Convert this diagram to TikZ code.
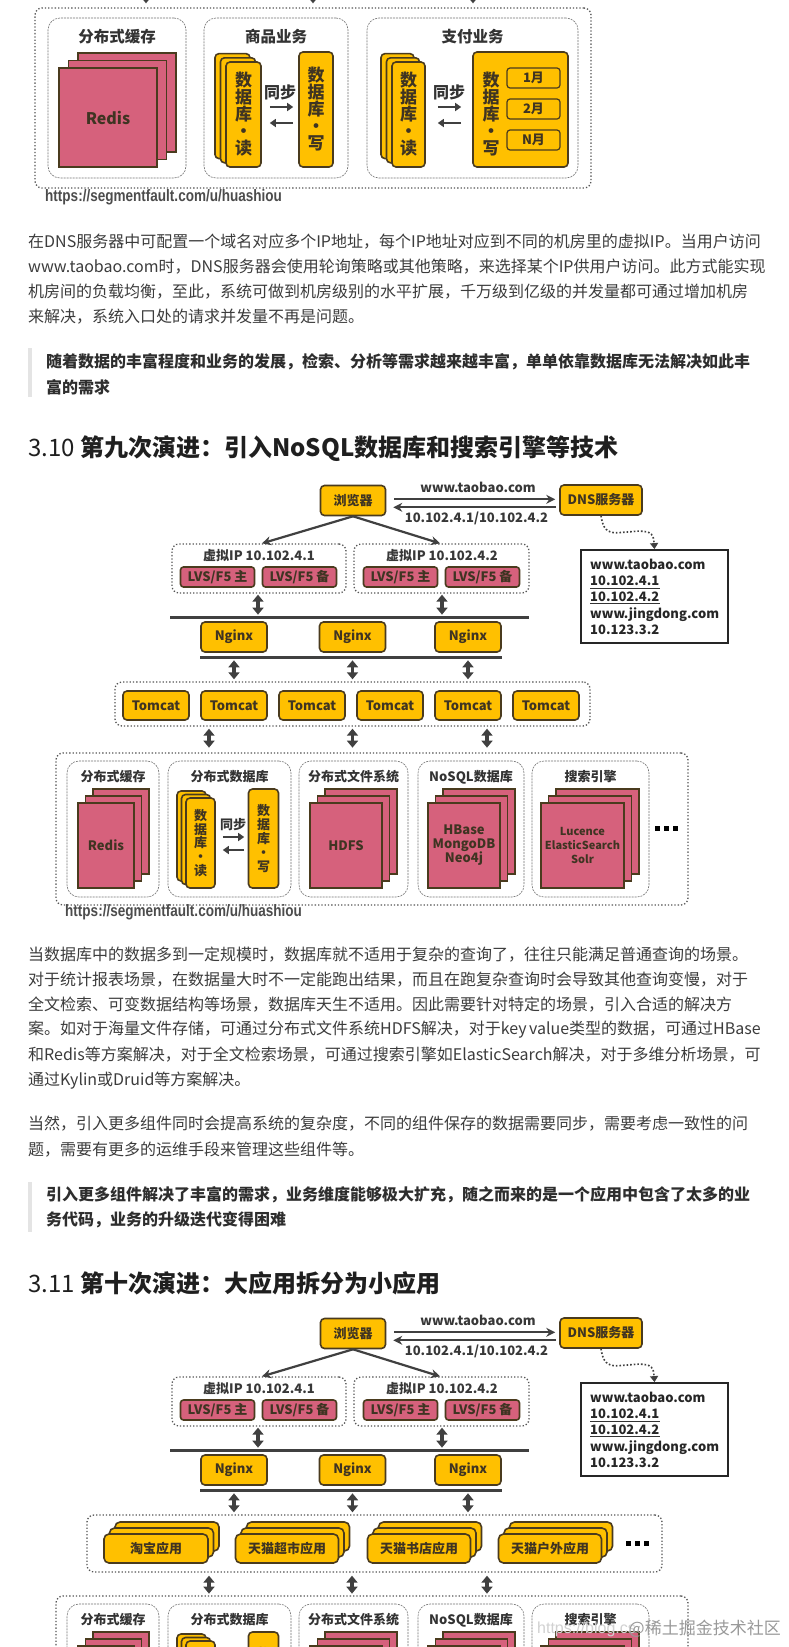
\documentclass[tikz,border=0pt]{standalone}
\usepackage{fontspec}
\usetikzlibrary{arrows.meta,calc,positioning}
\newfontfamily\cjk{Noto Sans CJK SC}
\newfontfamily\lsans{Liberation Sans}
\newfontfamily\narrow{Liberation Sans}[FakeStretch=0.82]
\XeTeXlinebreaklocale "zh"
\XeTeXlinebreakskip=0pt plus 4pt minus 1pt
\definecolor{yel}{HTML}{FFC000}
\definecolor{brd}{HTML}{4A3B1E}
\definecolor{pnk}{HTML}{D6617C}
\definecolor{ink}{HTML}{3F3422}
\definecolor{ln}{HTML}{404040}
\definecolor{body}{HTML}{3C3C3C}
\definecolor{bar}{HTML}{E4E4E4}
\definecolor{dots}{HTML}{555555}
\newcommand{\fsz}[1]{\fontsize{#1}{#1}\selectfont}
\newcommand{\vtxt}{\cjk\bfseries\fontsize{13}{13.8}\selectfont}
\newcommand{\vbig}{\cjk\bfseries\fontsize{17}{17}\selectfont}
\newcommand{\jline}[2]{\hbox to #1pt{#2}}
\newcommand{\dotrow}{\rule{5pt}{5pt}\hspace{4pt}\rule{5pt}{5pt}\hspace{4pt}\rule{5pt}{5pt}}
% three stacked sheets: [style]{name}{centre}{width}{height}{offset}{text}
\newcommand{\sheets}[7][page]{%
  \node[#1,minimum width=#4,minimum height=#5] (#2-3) at ($#3+2*#6$) {};
  \node[#1,minimum width=#4,minimum height=#5] (#2-2) at ($#3+#6$) {};
  \node[#1,minimum width=#4,minimum height=#5,align=center] (#2) at #3 {#7};}

\begin{document}
\begin{tikzpicture}[x=1pt,y=-1pt,
  txt/.style={anchor=west,inner sep=0,font=\cjk\fsz{16},text=body},
  quote/.style={txt,font=\cjk\bfseries\fsz{16},text=black!82},
  head/.style={anchor=west,inner sep=0,font=\cjk\bfseries\fsz{24},text=black!88},
  ybox/.style={draw=brd,line width=1.6pt,fill=yel,rounded corners=4pt,
    font=\cjk\bfseries\fsz{13},text=ink,inner sep=0},
  lvs/.style={ybox,fill=pnk,rounded corners=3pt,minimum width=74,minimum height=20},
  page/.style={draw=brd,line width=1.6pt,fill=pnk,
    font=\cjk\bfseries\fontsize{13}{14}\selectfont,text=ink,inner sep=0},
  dotbox/.style={draw=dots,line width=1.3pt,dotted,rounded corners=7pt},
  panel/.style={draw=black!55,line width=0.6pt,dash pattern=on 2pt off 1pt,
    rounded corners=12pt,fill=white},
  ttl/.style={font=\cjk\bfseries\fsz{13},text=black!80,inner sep=0},
  lbl/.style={font=\cjk\bfseries\fsz{13},text=black!78,inner sep=0},
  iline/.style={anchor=west,inner sep=0,font=\cjk\bfseries\fsz{13},text=black!85,
    text height=9.5,text depth=2.5},
  arr/.style={-{Stealth[length=9pt,width=9pt]},line width=2.2pt,draw=ln},
  sarr/.style={-{Triangle[length=6pt,width=8pt]},line width=2.4pt,draw=ln},
  dbl/.style={{Triangle[length=7pt,width=11pt]}-{Triangle[length=7pt,width=11pt]},
    line width=3.5pt,draw=ln},
  bus/.style={line width=2.4pt,draw=ln},
  url/.style={anchor=west,inner sep=0,font=\narrow\bfseries\fsz{16.5},text=black!70}]
  \fill[white,use as bounding box] (0,0) rectangle (789,1647);
  \clip (0,0) rectangle (789,1647);

  % ---- tail of the figure above
  \node[dotbox,minimum width=556,minimum height=180] (top) at (313,98) {};
  \foreach \dx in {-167,0,160}
    \draw[dbl] ($(top.north)+(\dx,-40)$) -- ($(top.north)+(\dx,-4)$);
  \node[panel,minimum width=138,minimum height=160] (cache0) at (117,98) {};
  \node[panel,minimum width=144,minimum height=160] (goods) at (276,98) {};
  \node[panel,minimum width=211,minimum height=160] (pay) at (472.5,98) {};
  \node[ttl,font=\cjk\bfseries\fsz{15.5}] (cache0-t) at (117,37) {分布式缓存};
  \node[ttl,font=\cjk\bfseries\fsz{15.5}] (goods-t) at (276,37) {商品业务};
  \node[ttl,font=\cjk\bfseries\fsz{15.5}] (pay-t) at (472.5,37) {支付业务};
  \sheets[page,font=\cjk\bfseries\fsz{16}]{redis0}{(108,117.5)}{98}{99}{(9.5,-7.5)}{Redis}
  \sheets[ybox,font=\vbig]{gr}{(243.5,114.5)}{35}{105}{(-5.5,-4.2)}{数\\据\\库\\·\\读}
  \node[ybox,font=\vbig,align=center,minimum width=34,minimum height=115] (gw) at (316,109.5) {数\\据\\库\\·\\写};
  \node[ttl,font=\cjk\bfseries\fsz{16}] (gsync) at (280,92) {同步};
  \draw[sarr] ($(gr.east)+(8,-7.5)$) -- ($(gw.west)+(-5,-2.5)$);
  \draw[sarr] ($(gw.west)+(-5,13.5)$) -- ($(gr.east)+(8,8.5)$);
  \sheets[ybox,font=\vbig]{pr}{(408.5,114.5)}{33}{105}{(-5.5,-4.2)}{数\\据\\库\\·\\读}
  \node[ybox,minimum width=95,minimum height=115] (pw) at (520.5,109.5) {};
  \node[font=\vbig,text=ink,align=center,inner sep=0] (pw-t) at (491,114) {数\\据\\库\\·\\写};
  \foreach \i/\m/\y in {1/1月/78,2/2月/109,3/N月/140}
    \node[ybox,line width=1.2pt,rounded corners=3pt,minimum width=53,minimum height=20] (mon\i) at (533.5,\y) {\m};
  \node[ttl,font=\cjk\bfseries\fsz{16}] (psync) at (449,92) {同步};
  \draw[sarr] ($(pr.east)+(12,-7.5)$) -- ($(pw.west)+(-11,-2.5)$);
  \draw[sarr] ($(pw.west)+(-11,13.5)$) -- ($(pr.east)+(12,8.5)$);
  \node[url] (src0) at (45,197) {https://segmentfault.com/u/huashiou};

  % ---- text
  \node[txt] (p1a) at (28,242) {\jline{725}{在DNS服务器中可配置一个域名对应多个IP地址，每个IP地址对应到不同的机房里的虚拟IP。当用户访问}};
  \node[txt] (p1b) at (28,267) {\jline{725}{www.taobao.com时，DNS服务器会使用轮询策略或其他策略，来选择某个IP供用户访问。此方式能实现}};
  \node[txt] (p1c) at (28,292) {\jline{717}{机房间的负载均衡，至此，系统可做到机房级别的水平扩展，千万级到亿级的并发量都可通过增加机房}};
  \node[txt] (p1d) at (28,317) {来解决，系统入口处的请求并发量不再是问题。};
  \fill[bar] (28,348) rectangle (32,397);
  \node[quote] (q1a) at (46,362) {\jline{704}{随着数据的丰富程度和业务的发展，检索、分析等需求越来越丰富，单单依靠数据库无法解决如此丰}};
  \node[quote] (q1b) at (46,387) {富的需求};
  \node[head] (h10) at (28,449) {{\mdseries 3.10} 第九次演进：引入NoSQL数据库和搜索引擎等技术};

  \node[txt] (p2a) at (28,955) {\jline{722}{当数据库中的数据多到一定规模时，数据库就不适用于复杂的查询了，往往只能满足普通查询的场景。}};
  \node[txt] (p2b) at (28,980) {\jline{717}{对于统计报表场景，在数据量大时不一定能跑出结果，而且在跑复杂查询时会导致其他查询变慢，对于}};
  \node[txt] (p2c) at (28,1005) {\jline{702}{全文检索、可变数据结构等场景，数据库天生不适用。因此需要针对特定的场景，引入合适的解决方}};
  \node[txt] (p2d) at (28,1030) {\jline{722}{案。如对于海量文件存储，可通过分布式文件系统HDFS解决，对于key value类型的数据，可通过HBase}};
  \node[txt] (p2e) at (28,1055) {\jline{719}{和Redis等方案解决，对于全文检索场景，可通过搜索引擎如ElasticSearch解决，对于多维分析场景，可}};
  \node[txt] (p2f) at (28,1081) {通过Kylin或Druid等方案解决。};
  \node[txt] (p3a) at (28,1124) {\jline{718}{当然，引入更多组件同时会提高系统的复杂度，不同的组件保存的数据需要同步，需要考虑一致性的问}};
  \node[txt] (p3b) at (28,1150) {题，需要有更多的运维手段来管理这些组件等。};
  \fill[bar] (28,1182) rectangle (32,1232);
  \node[quote] (q2a) at (46,1195) {\jline{704}{引入更多组件解决了丰富的需求，业务维度能够极大扩充，随之而来的是一个应用中包含了太多的业}};
  \node[quote] (q2b) at (46,1220) {务代码，业务的升级迭代变得困难};
  \node[head] (h11) at (28,1283) {{\mdseries 3.11} 第十次演进：大应用拆分为小应用};

  % ---- entry part, drawn for both figures
  \foreach \sy/\p in {0/a-,833/b-}{
  \begin{scope}[shift={(0,\sy)},name prefix=\p]
    \node[ybox,minimum width=65,minimum height=30] (brw) at (353,500.5) {浏览器};
    \node[ybox,minimum width=82,minimum height=30] (dns) at (601,500) {DNS服务器};
    \draw[arr] ($(brw.east)+(8,-1.2)$) -- ($(dns.west)+(-4,-0.7)$);
    \draw[arr] ($(dns.west)+(-3,7.3)$) -- ($(brw.east)+(7,6.8)$);
    \node[lbl] (ask) at (478,487.5) {www.taobao.com};
    \node[lbl] (ans) at (476.5,518) {10.102.4.1/10.102.4.2};
    \node[draw=black!85,line width=1.8pt,fill=white,minimum width=147,minimum height=93] (info) at (654.5,596.5) {};
    \node[iline] (i1) at (590,566) {www.taobao.com};
    \node[iline] (i2) at (590,582) {10.102.4.1};
    \node[iline] (i3) at (590,597.5) {10.102.4.2};
    \node[iline] (i4) at (590,615) {www.jingdong.com};
    \node[iline] (i5) at (590,631) {10.123.3.2};
    \draw[line width=1.2pt,black!80] (i2.south west) -- (i2.south east);
    \draw[line width=1.2pt,black!80] (i3.south west) -- (i3.south east);
    \draw[dotted,line width=1.6pt,draw=ln,-{Triangle[length=6pt,width=8pt]}] (dns.south)
      .. controls ($(dns.south)+(2,13)$) and ($(dns.south)+(6,17)$) .. ($(dns.south)+(16,17)$)
      -- ($(info.north)+(-16,-18)$)
      .. controls ($(info.north)+(-2,-18)$) and ($(info.north)+(-1,-14)$) .. (info.north);
    \node[dotbox,minimum width=174,minimum height=49] (vip1) at (259,568.5) {};
    \node[dotbox,minimum width=175,minimum height=49] (vip2) at (441.5,568.5) {};
    \node[lbl] (vip1-t) at (259,556) {虚拟IP 10.102.4.1};
    \node[lbl] (vip2-t) at (442,556) {虚拟IP 10.102.4.2};
    \node[lvs] (lvs1) at (217.5,577) {LVS/F5 主};
    \node[lvs] (lvs2) at (299.5,577) {LVS/F5 备};
    \node[lvs] (lvs3) at (400.5,577) {LVS/F5 主};
    \node[lvs] (lvs4) at (482.5,577) {LVS/F5 备};
    \draw[arr] (brw.south) -- ([xshift=3pt]vip1.north);
    \draw[arr] (brw.south) -- ([xshift=-1.5pt]vip2.north);
    \draw[dbl] ($(vip1.south)+(-1,1)$) -- ++(0,20);
    \draw[dbl] ($(vip2.south)+(0.5,1)$) -- ++(0,20);
    \draw[bus] ($(vip1.south west)+(-1,24)$) -- ($(vip2.south east)+(-1,24)$);
    \foreach \i/\x in {1/234,2/352.5,3/468}
      \node[ybox,minimum width=66,minimum height=30] (ng\i) at (\x,637) {Nginx};
    \draw[bus] ($(ng1.south west)+(0,4.5)$) -- ($(ng3.south east)+(0,4.5)$);
    \foreach \i in {1,2,3}
      \draw[dbl] ($(ng\i.south)+(0,7.5)$) -- ++(0,19);
  \end{scope}}

  % ---- Tomcat row
  \node[dotbox,minimum width=475,minimum height=44] (tcs) at (352.5,704) {};
  \foreach \i/\x in {1/156,2/234,3/312,4/390,5/468,6/546}
    \node[ybox,minimum width=66,minimum height=29] (tc\i) at (\x,705.5) {Tomcat};
  \foreach \dx in {-143.5,0,134.5}
    \draw[dbl] ($(tcs.south)+(\dx,2)$) -- ++(0,19);

  % ---- application row
  \node[dotbox,minimum width=575,minimum height=57] (apps) at (374.5,1543.5) {};
  \sheets[ybox,rounded corners=5pt]{tb}{(156,1548.5)}{104}{29}{(5.5,-6)}{淘宝应用}
  \sheets[ybox,rounded corners=5pt]{cs}{(287,1548.5)}{103}{29}{(5.5,-6)}{天猫超市应用}
  \sheets[ybox,rounded corners=5pt]{bk}{(419,1548.5)}{103}{29}{(5.5,-6)}{天猫书店应用}
  \sheets[ybox,rounded corners=5pt]{od}{(550,1548.5)}{103}{29}{(5.5,-6)}{天猫户外应用}
  \node[inner sep=0] (more2) at (637,1543) {\dotrow};
  \foreach \dx in {-165.5,-22.5,112.5}
    \draw[dbl] ($(apps.south)+(\dx,3)$) -- ++(0,18);

  % ---- storage part, drawn for both figures
  \foreach \sy/\p in {0/s-,843/t-}{
  \begin{scope}[shift={(0,\sy)},name prefix=\p]
    \node[dotbox,minimum width=632,minimum height=152] (store) at (372,829) {};
    \foreach \nm/\x/\w/\lab in {cache/113/92/分布式缓存,ddb/229.5/123/分布式数据库,
        dfs/353.5/109/分布式文件系统,nosql/471/106/NoSQL数据库,search/590.5/117/搜索引擎}{
      \node[panel,minimum width=\w,minimum height=136] (\nm) at (\x,829) {};
      \node[ttl] (\nm-t) at (\x,777) {\lab};}
    \sheets{redis}{(106,845.5)}{56}{85}{(7.5,-7)}{Redis}
    \sheets{hdfs}{(346,845.5)}{72}{85}{(7.5,-7)}{HDFS}
    \sheets{kv}{(464,845.5)}{72}{85}{(7.5,-7)}{HBase\\MongoDB\\Neo4j}
    \sheets[page,font=\cjk\bfseries\fontsize{11}{14}\selectfont]{es}{(582.5,845.5)}{83}{85}{(7.5,-7)}{Lucence\\ElasticSearch\\Solr}
    \sheets[ybox,font=\vtxt]{rd}{(200.5,843)}{29}{90}{(-4.5,-3.5)}{数\\据\\库\\·\\读}
    \node[ybox,font=\vtxt,align=center,minimum width=30,minimum height=99] (wr) at (263.5,838.5) {数\\据\\库\\·\\写};
    \node[ttl] (sync) at (233,825) {同步};
    \draw[sarr] ($(rd.east)+(7,-6)$) -- ($(wr.west)+(-3.5,-1.5)$);
    \draw[sarr] ($(wr.west)+(-3.5,11.5)$) -- ($(rd.east)+(7,7)$);
    \node[inner sep=0] (more1) at (666,828) {\dotrow};
  \end{scope}}
  \node[url] (src1) at (65,912) {https://segmentfault.com/u/huashiou};

  % ---- watermark
  \node[anchor=west,inner sep=0,font=\lsans\fsz{16},text=black!18] (wm1) at (537,1629) {https://blog.cs};
  \node[anchor=east,inner sep=0,font=\cjk\fsz{17},text=black!40] (wm2) at (781,1629) {@稀土掘金技术社区};
\end{tikzpicture}
\end{document}
